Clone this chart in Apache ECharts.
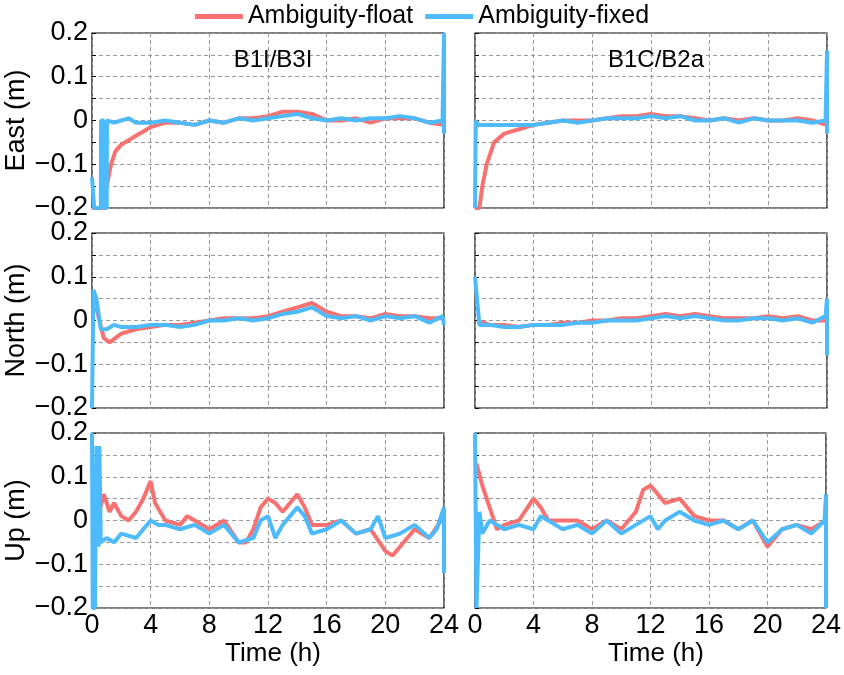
<!DOCTYPE html>
<html>
<head>
<meta charset="utf-8">
<script src="https://cdn.jsdelivr.net/npm/echarts@6/dist/echarts.min.js"></script>
<style>html,body{margin:0;background:#fff}#c{width:844px;height:675px}</style>
</head>
<body>
<div id="c"></div>
<script>
// [time (h), error (m)]
const eastB1Float = [[0,-0.2],[0.8,-0.2],[1,-0.15],[1.3,-0.1],[1.6,-0.07],[2,-0.055],[2.5,-0.045],[3,-0.035],[3.5,-0.025],[4,-0.015],[4.5,-0.01],[5,-0.005],[6,-0.005],[7,-0.01],[8,0],[9,-0.005],[10,0.005],[11,0.005],[12,0.01],[13,0.02],[14,0.02],[15,0.015],[16,0],[17,0],[18,0.005],[19,-0.005],[20,0.005],[21,0.005],[22,0.005],[23,-0.005],[24,-0.01]];
const eastB1Fixed = [[0,-0.13],[0.1,-0.13],[0.15,-0.2],[0.6,-0.2],[0.62,0],[0.8,0],[0.82,-0.2],[1,-0.2],[1.02,0],[1.5,-0.005],[2,0],[2.5,0.005],[3,-0.005],[4,-0.005],[5,0],[6,-0.005],[7,-0.01],[8,0],[9,-0.005],[10,0.005],[11,0],[12,0.005],[13,0.01],[14,0.015],[15,0.005],[16,0],[17,0.005],[18,0],[19,0.005],[20,0.005],[21,0.01],[22,0.005],[23,-0.005],[23.9,0],[24,0.2],[24,-0.03]];
const eastB2Float = [[0,-0.2],[0.3,-0.2],[0.5,-0.15],[0.8,-0.1],[1.3,-0.05],[2,-0.03],[3,-0.02],[4,-0.01],[5,-0.005],[6,0],[7,0],[8,0],[9,0.005],[10,0.01],[11,0.01],[12,0.015],[13,0.01],[14,0.01],[15,0.005],[16,0],[17,0.005],[18,0],[19,0.005],[20,0],[21,0],[22,0.005],[23,0],[24,-0.01]];
const eastB2Fixed = [[0,-0.2],[0.05,0],[0.2,-0.01],[1,-0.01],[2,-0.01],[3,-0.01],[4,-0.01],[5,-0.005],[6,0],[7,-0.005],[8,0],[9,0.005],[10,0.005],[11,0.005],[12,0.01],[13,0.005],[14,0.01],[15,0],[16,0],[17,0.005],[18,-0.005],[19,0.005],[20,0],[21,0],[22,0],[23,-0.005],[23.9,0],[24,0.16],[24,-0.03]];
const northB1Float = [[0.3,0.03],[0.5,0.0],[0.8,-0.04],[1.2,-0.05],[2,-0.03],[3,-0.02],[4,-0.015],[5,-0.01],[6,-0.01],[7,-0.005],[8,0],[9,0.005],[10,0.005],[11,0.005],[12,0.01],[13,0.02],[14,0.03],[15,0.04],[16,0.02],[17,0.01],[18,0.01],[19,0.005],[20,0.015],[21,0.01],[22,0.01],[23,0.005],[24,0.005]];
const northB1Fixed = [[0,-0.2],[0.1,0.07],[0.3,0.05],[0.6,-0.02],[1,-0.02],[1.5,-0.01],[2,-0.015],[3,-0.015],[4,-0.01],[5,-0.01],[6,-0.015],[7,-0.01],[8,0],[9,0],[10,0.005],[11,0],[12,0.005],[13,0.015],[14,0.02],[15,0.03],[16,0.01],[17,0.005],[18,0.01],[19,0],[20,0.01],[21,0.005],[22,0.01],[23,-0.005],[23.9,0.01],[24,-0.01]];
const northB2Float = [[0.2,0],[1,-0.01],[2,-0.01],[3,-0.015],[4,-0.01],[5,-0.01],[6,-0.005],[7,-0.005],[8,0],[9,0],[10,0.005],[11,0.005],[12,0.01],[13,0.015],[14,0.01],[15,0.015],[16,0.01],[17,0.005],[18,0.005],[19,0.005],[20,0.01],[21,0.005],[22,0.01],[23,0],[24,0]];
const northB2Fixed = [[0,0.1],[0.3,-0.01],[1,-0.01],[2,-0.015],[3,-0.015],[4,-0.01],[5,-0.01],[6,-0.01],[7,-0.005],[8,-0.005],[9,0],[10,0],[11,0],[12,0.005],[13,0.01],[14,0.005],[15,0.01],[16,0.005],[17,0],[18,0],[19,0.005],[20,0.005],[21,0],[22,0.005],[23,-0.005],[23.9,0.01],[24,0.05],[24,-0.08]];
const upB1Float = [[0.5,0.02],[0.8,0.06],[1.2,0.02],[1.5,0.04],[2,0.01],[2.5,0],[3,0.02],[3.5,0.05],[4,0.09],[4.3,0.04],[5,0],[6,-0.01],[6.5,0.01],[7,0],[8,-0.02],[9,0],[10,-0.05],[10.5,-0.05],[11,-0.02],[11.5,0.03],[12,0.05],[12.5,0.04],[13,0.02],[14,0.06],[14.5,0.03],[15,-0.01],[16,-0.01],[17,0],[18,-0.03],[19,-0.02],[20,-0.07],[20.5,-0.08],[21,-0.06],[22,-0.02],[23,-0.04],[24,0.01]];
const upB1Fixed = [[0,0.2],[0.05,-0.2],[0.2,-0.2],[0.3,0.17],[0.45,-0.06],[0.5,0.17],[0.6,-0.05],[1,-0.04],[1.5,-0.05],[2,-0.03],[3,-0.04],[3.5,-0.02],[4,0],[4.5,-0.01],[5,-0.01],[6,-0.02],[7,-0.01],[8,-0.03],[9,-0.01],[10,-0.05],[11,-0.04],[11.5,0],[12,0.01],[12.5,-0.04],[13,-0.01],[14,0.03],[14.5,0.01],[15,-0.03],[16,-0.02],[17,0],[18,-0.03],[19,-0.02],[19.5,0.01],[20,-0.04],[21,-0.03],[22,-0.01],[23,-0.04],[23.5,-0.02],[24,0.03],[24,-0.12]];
const upB2Float = [[0.1,0.13],[0.5,0.08],[1,0.03],[1.5,-0.02],[2,-0.01],[3,0],[4,0.05],[4.5,0.03],[5,0],[6,0],[7,0],[8,-0.02],[9,0],[10,-0.02],[11,0.02],[11.5,0.07],[12,0.08],[12.5,0.06],[13,0.04],[14,0.05],[15,0.01],[16,0],[17,0],[18,-0.02],[19,0],[20,-0.06],[21,-0.02],[22,-0.01],[23,-0.02],[24,0]];
const upB2Fixed = [[0,0.2],[0.1,-0.2],[0.3,0.02],[0.5,-0.03],[1,0],[2,-0.02],[3,-0.01],[4,-0.02],[4.5,0.01],[6,-0.02],[7,-0.01],[8,-0.03],[9,0],[10,-0.03],[11,-0.01],[12,0.01],[12.5,-0.02],[13,0],[14,0.02],[15,0],[16,-0.01],[17,0],[18,-0.02],[19,0],[20,-0.05],[21,-0.02],[22,-0.01],[23,-0.03],[23.9,0],[24,0.06],[24,-0.2]];

const rowNames = ['East (m)', 'North (m)', 'Up (m)'];
const panelTitles = ['B1I/B3I', 'B1C/B2a'];
const seriesData = [
  [[eastB1Float, eastB1Fixed], [eastB2Float, eastB2Fixed]],
  [[northB1Float, northB1Fixed], [northB2Float, northB2Fixed]],
  [[upB1Float, upB1Fixed], [upB2Float, upB2Fixed]]
];
const FLOAT = '#f87171', FIXED = '#4dbbfb';
const font = 'Arial, "Liberation Sans", sans-serif';

const lefts = [92, 475], tops = [33, 233, 433];
const grid = [], xAxis = [], yAxis = [], series = [];
const dash = { show: true, lineStyle: { color: '#999', type: [4, 3], width: 1 } };

rowNames.forEach((name, r) => {
  [0, 1].forEach((c) => {
    const i = grid.length;
    grid.push({ left: lefts[c], top: tops[r], width: 352, height: 175, show: true,
      borderColor: '#000', borderWidth: 1.2, backgroundColor: 'transparent' });
    xAxis.push({ type: 'value', gridIndex: i, min: 0, max: 24, interval: 4,
      axisLine: { show: false }, axisTick: { show: false }, splitLine: dash,
      axisLabel: { show: r === 2, color: '#000', fontSize: 27, fontFamily: font, margin: 4 } });
    yAxis.push({ type: 'value', gridIndex: i, min: -0.2, max: 0.2, interval: 0.05,
      name: c === 0 ? name : '', nameLocation: 'middle', nameGap: 62,
      nameTextStyle: { color: '#000', fontSize: 27, fontFamily: font },
      axisLine: { show: false },
      axisTick: { show: true, inside: true, length: 4, lineStyle: { color: '#000' } },
      splitLine: dash,
      axisLabel: { show: c === 0, color: '#000', fontSize: 27, fontFamily: font, margin: 4,
        formatter: (v) => {
          const k = Math.round(v * 100);
          if (k % 10 !== 0) return '';
          return k === 0 ? '0' : (k < 0 ? '\u2212' : '') + (Math.abs(k) / 100).toFixed(1);
        } } });
    const [fl, fx] = seriesData[r][c];
    series.push({ name: 'Ambiguity-float', type: 'line', xAxisIndex: i, yAxisIndex: i,
      data: fl, showSymbol: false, lineStyle: { color: FLOAT, width: 4 }, itemStyle: { color: FLOAT } });
    series.push({ name: 'Ambiguity-fixed', type: 'line', xAxisIndex: i, yAxisIndex: i,
      data: fx, showSymbol: false, lineStyle: { color: FIXED, width: 4 }, itemStyle: { color: FIXED } });
  });
});

const titles = panelTitles.map((t, c) => ({
  text: t, left: lefts[c] + 176, top: 43, textAlign: 'center',
  textStyle: { fontSize: 24, fontWeight: 'normal', color: '#000', fontFamily: font }
}));
titles.push({ text: 'Time (h)', left: 268, top: 636, textAlign: 'center',
  textStyle: { fontSize: 26, fontWeight: 'normal', color: '#000', fontFamily: font } });
titles.push({ text: 'Time (h)', left: 651, top: 636, textAlign: 'center',
  textStyle: { fontSize: 26, fontWeight: 'normal', color: '#000', fontFamily: font } });

const chart = echarts.init(document.getElementById('c'));
chart.setOption({
  animation: false,
  title: titles,
  legend: { top: -1, left: 'center', itemWidth: 48, itemHeight: 5, itemGap: 12,
    icon: 'rect', data: ['Ambiguity-float', 'Ambiguity-fixed'],
    textStyle: { fontSize: 25, color: '#000', fontFamily: font } },
  grid, xAxis, yAxis, series
});
</script>
</body>
</html>
